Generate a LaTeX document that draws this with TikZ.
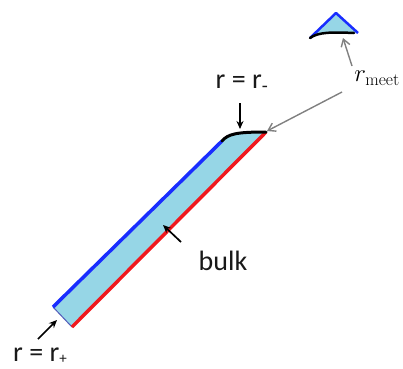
\documentclass[tikz,border=0pt]{standalone}
\usepackage{fontspec}
\setsansfont{Carlito}
\usetikzlibrary{arrows.meta}
\definecolor{fillb}{RGB}{150,214,230}
\definecolor{edgeblue}{RGB}{25,45,255}
\definecolor{edgered}{RGB}{240,25,30}
\begin{document}
\begin{tikzpicture}[x=1pt,y=-1pt,
  lab/.style={font=\sffamily\fontsize{28}{30}\selectfont, inner sep=0pt, text=black!90},
  sub/.style={},
  blackarrow/.style={-{Stealth[length=8pt,width=7pt]}, line width=1.7pt},
  grayarrow/.style={-{Straight Barb[length=7pt,width=9pt]}, gray, line width=1.4pt}]
\useasboundingbox (0,0) rectangle (403,368);
% strip
\coordinate (BL) at (53,307);
\coordinate (BR) at (72,327);
\coordinate (TL) at (222,141);
\coordinate (TR) at (266,132);
\fill[fillb] (BL) -- (TL) .. controls (228,134) and (236,132) .. (TR) -- (BR) -- cycle;
\draw[edgeblue!45!gray, line width=1pt] (BL) -- (BR);
\draw[edgeblue, line width=3.5pt] (BL) -- (TL);
\draw[edgered, line width=3.5pt] (BR) -- (TR);
\draw[black, line width=3pt, line cap=round] (TL) .. controls (228,134) and (236,132) .. (TR);
% triangle
\coordinate (A) at (336,13);
\coordinate (L) at (310,38);
\coordinate (R) at (358,33);
\fill[fillb] (L) -- (A) -- (R) .. controls (340,32) and (320,31) .. (L);
\draw[edgeblue, line width=2.5pt, line join=round] (L) -- (A) -- (R);
\draw[black, line width=2.5pt, line cap=round] (L) .. controls (318,32) and (332,32) .. (354,33);
% labels
\node[lab] (rminus) at (242,84) {r = r\textsubscript{-}};
\node[lab, anchor=base] (rplus) at (40,361) {r = r\raisebox{-0.08em}{\fontsize{15}{15}\selectfont +}};
\node[lab] (bulk) at (223,261) {bulk};
\node[inner sep=0pt, font=\fontsize{25}{27}\selectfont] (rmeet) at (377,78) {$r_{\mathrm{meet}}$};
% arrow endpoints
\coordinate (mtail) at (240,103);
\coordinate (mtip) at (240,129);
\coordinate (ptail) at (38,339);
\coordinate (ptip) at (57,320);
\coordinate (btail) at (181,242);
\coordinate (btip) at (163,225);
\coordinate (up) at (343,38);
\coordinate (uptail) at (352,66);
\coordinate (ltail) at (342,92);
\coordinate (ltip) at (267,131);
\draw[blackarrow] (mtail) -- (mtip);
\draw[blackarrow] (ptail) -- (ptip);
\draw[blackarrow] (btail) -- (btip);
\draw[grayarrow] (uptail) -- (up);
\draw[grayarrow] (ltail) -- (ltip);
\end{tikzpicture}
\end{document}
